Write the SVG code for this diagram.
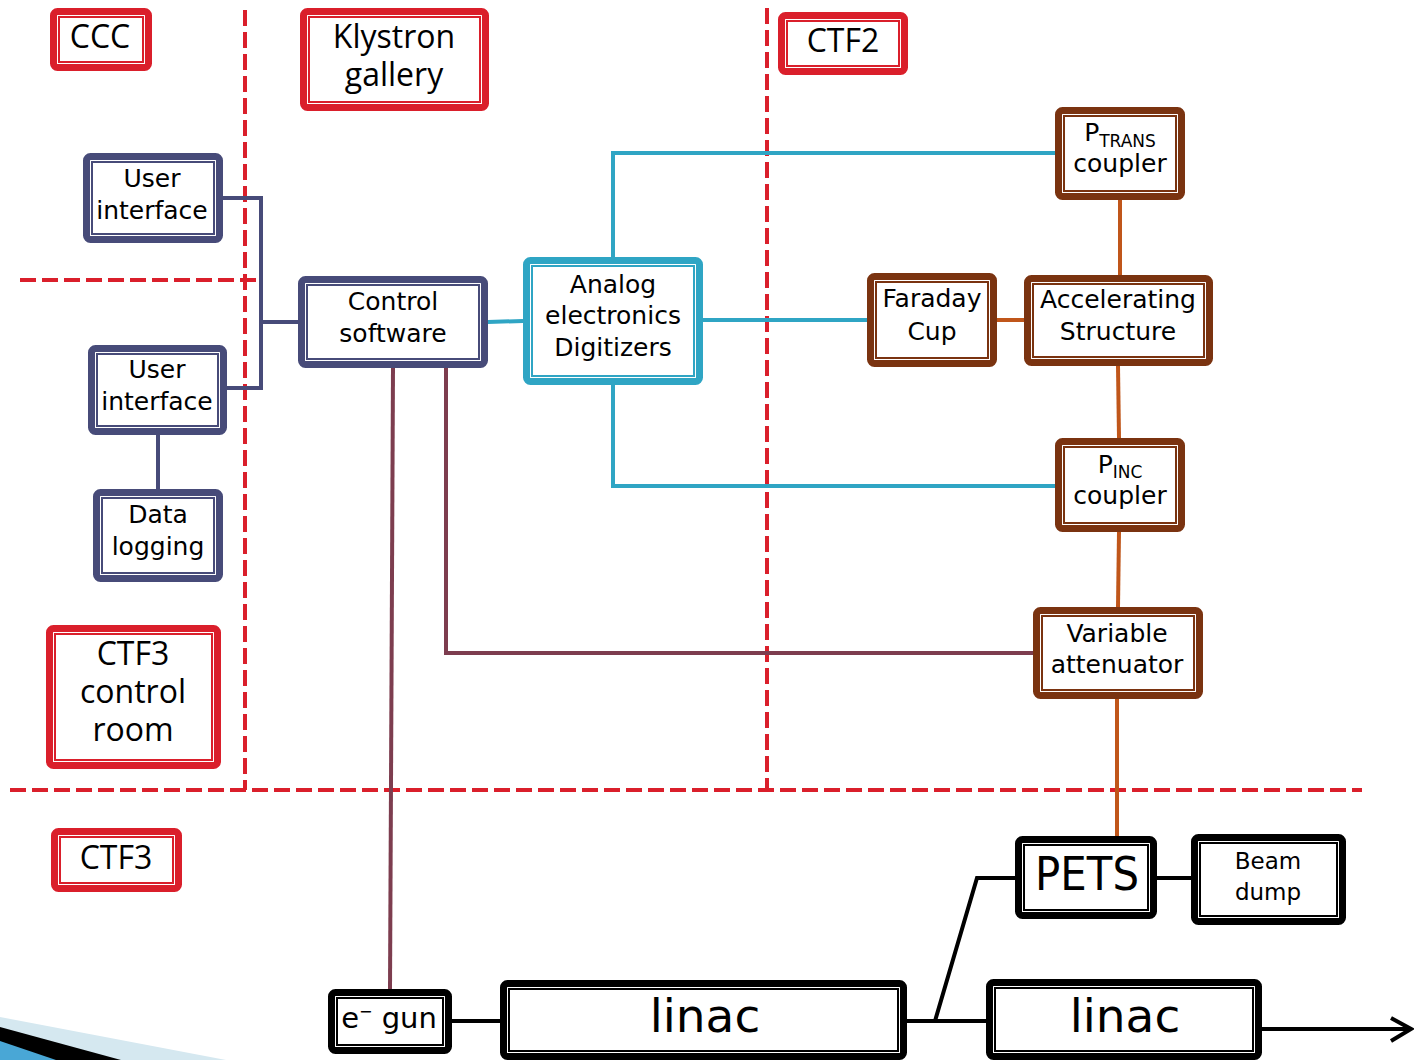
<svg xmlns="http://www.w3.org/2000/svg" width="1414" height="1060" viewBox="0 0 1414 1060">
<style>
text{font-family:"DejaVu Sans","Liberation Sans",sans-serif;font-size:25px;fill:#000;text-anchor:middle}
text.lbl{font-family:"Open Sans","Liberation Sans",sans-serif;font-size:32px}
text.big{font-size:47px}
text.gun{font-size:29px}
text.bd{font-size:23px}
.o{fill:#fff;stroke-width:7}
.i{fill:none;stroke-width:2}
.red{stroke:#DA1F2B}
.navy{stroke:#474B79}
.cyan{stroke:#2FA5C4}
.brown{stroke:#7A3310}
.blk{stroke:#000}
.dash{fill:none;stroke:#DA1F2B;stroke-width:4;stroke-dasharray:16 6}
.c{fill:none;stroke-width:4}
</style>
<rect width="1414" height="1060" fill="#fff"/>
<g id="decoration">
<polygon points="0,1017 226,1060 0,1060" fill="#D5E8F0"/>
<polygon points="0,1027 121,1060 0,1060" fill="#000"/>
<polygon points="0,1041 56,1060 0,1060" fill="#49A7D6"/>
</g>
<g id="zones">
<line class="dash" x1="245" y1="10" x2="245" y2="790"/>
<line class="dash" x1="767" y1="8" x2="767" y2="790"/>
<line class="dash" x1="20" y1="280" x2="256" y2="280"/>
<line class="dash" x1="10" y1="790" x2="1362" y2="790"/>
</g>
<g id="connectors">
<g class="c navy">
<polyline points="223,198 261,198 261,388 227,388"/>
<line x1="261" y1="322" x2="298" y2="322"/>
<line x1="158" y1="435" x2="158" y2="489"/>
</g>
<g class="c cyan">
<line x1="488" y1="322" x2="523" y2="321"/>
<polyline points="613,257 613,153 1058,153"/>
<line x1="703" y1="320" x2="869" y2="320"/>
<polyline points="613,385 613,486 1058,486"/>
</g>
<g class="c" style="stroke:#C0561A">
<line x1="1120" y1="200" x2="1120" y2="275"/>
<line x1="997" y1="320" x2="1024" y2="320"/>
<line x1="1118" y1="366" x2="1119" y2="438"/>
<line x1="1119" y1="532" x2="1118" y2="607"/>
<line x1="1117" y1="699" x2="1117" y2="837"/>
</g>
<g class="c" style="stroke:#7D3D4F">
<line x1="393" y1="368" x2="390" y2="990"/>
<polyline points="446,368 446,653 1033,653"/>
</g>
<g class="c blk">
<line x1="452" y1="1021" x2="500" y2="1021"/>
<line x1="907" y1="1021" x2="986" y2="1021"/>
<polyline points="935,1021 977,878 1015,878"/>
<line x1="1157" y1="878" x2="1191" y2="878"/>
<line x1="1262" y1="1029" x2="1410" y2="1029"/>
<polyline points="1391,1018 1411,1029 1391,1041"/>
</g>
</g>
<g id="ccc">
<rect class="o red" x="53.5" y="11.5" width="95" height="56" rx="4"/>
<rect class="i red" x="59" y="17" width="84" height="45"/>
<text class="lbl" x="100" y="48">CCC</text>
</g>
<g id="klystron">
<rect class="o red" x="303.5" y="11.5" width="182" height="96" rx="4"/>
<rect class="i red" x="309" y="17" width="171" height="85"/>
<text class="lbl" x="394" y="48">Klystron</text>
<text class="lbl" x="394" y="86">gallery</text>
</g>
<g id="ctf2">
<rect class="o red" x="781.5" y="15.5" width="123" height="56" rx="4"/>
<rect class="i red" x="787" y="21" width="112" height="45"/>
<text class="lbl" x="843" y="52">CTF2</text>
</g>
<g id="ctf3cr">
<rect class="o red" x="49.5" y="628.5" width="168" height="137" rx="4"/>
<rect class="i red" x="55" y="634" width="157" height="126"/>
<text class="lbl" x="133" y="665">CTF3</text>
<text class="lbl" x="133" y="703">control</text>
<text class="lbl" x="133" y="741">room</text>
</g>
<g id="ctf3">
<rect class="o red" x="54.5" y="831.5" width="124" height="57" rx="4"/>
<rect class="i red" x="60" y="837" width="113" height="46"/>
<text class="lbl" x="116" y="869">CTF3</text>
</g>
<g id="ui1">
<rect class="o navy" x="86.5" y="156.5" width="133" height="83" rx="4"/>
<rect class="i navy" x="92" y="162" width="122" height="72"/>
<text x="152" y="187">User</text>
<text x="152" y="219">interface</text>
</g>
<g id="ui2">
<rect class="o navy" x="91.5" y="348.5" width="132" height="83" rx="4"/>
<rect class="i navy" x="97" y="354" width="121" height="72"/>
<text x="157" y="378">User</text>
<text x="157" y="410">interface</text>
</g>
<g id="datalog">
<rect class="o navy" x="96.5" y="492.5" width="123" height="86" rx="4"/>
<rect class="i navy" x="102" y="498" width="112" height="75"/>
<text x="158" y="523">Data</text>
<text x="158" y="555">logging</text>
</g>
<g id="control">
<rect class="o navy" x="301.5" y="279.5" width="183" height="85" rx="4"/>
<rect class="i navy" x="307" y="285" width="172" height="74"/>
<text x="393" y="310">Control</text>
<text x="393" y="342">software</text>
</g>
<g id="analog">
<rect class="o cyan" x="526.5" y="260.5" width="173" height="121" rx="4"/>
<rect class="i cyan" x="532" y="266" width="162" height="110"/>
<text x="613" y="293">Analog</text>
<text x="613" y="324">electronics</text>
<text x="613" y="356">Digitizers</text>
</g>
<g id="ptrans">
<rect class="o brown" x="1058.5" y="110.5" width="123" height="86" rx="4"/>
<rect class="i brown" x="1064" y="116" width="112" height="75"/>
<text x="1120" y="141">P<tspan font-size="17" dy="6">TRANS</tspan></text>
<text x="1120" y="172">coupler</text>
</g>
<g id="faraday">
<rect class="o brown" x="870.5" y="276.5" width="123" height="87" rx="4"/>
<rect class="i brown" x="876" y="282" width="112" height="76"/>
<text x="932" y="307">Faraday</text>
<text x="932" y="340">Cup</text>
</g>
<g id="accel">
<rect class="o brown" x="1027.5" y="278.5" width="182" height="84" rx="4"/>
<rect class="i brown" x="1033" y="284" width="171" height="73"/>
<text x="1118" y="308">Accelerating</text>
<text x="1118" y="340">Structure</text>
</g>
<g id="pinc">
<rect class="o brown" x="1058.5" y="441.5" width="123" height="87" rx="4"/>
<rect class="i brown" x="1064" y="447" width="112" height="76"/>
<text x="1120" y="473">P<tspan font-size="17" dy="5">INC</tspan></text>
<text x="1120" y="504">coupler</text>
</g>
<g id="attenuator">
<rect class="o brown" x="1036.5" y="610.5" width="163" height="85" rx="4"/>
<rect class="i brown" x="1042" y="616" width="152" height="74"/>
<text x="1117" y="642">Variable</text>
<text x="1117" y="673">attenuator</text>
</g>
<g id="egun">
<rect class="o blk" x="331.5" y="992.5" width="117" height="58" rx="4"/>
<rect class="i blk" x="337" y="998" width="106" height="47"/>
<text class="gun" x="389" y="1028">e<tspan font-size="16" dy="-11">−</tspan><tspan dy="11"> gun</tspan></text>
</g>
<g id="linac1">
<rect class="o blk" x="503.5" y="983.5" width="400" height="73" rx="4"/>
<rect class="i blk" x="509" y="989" width="389" height="62"/>
<text class="big" x="705" y="1032">linac</text>
</g>
<g id="linac2">
<rect class="o blk" x="989.5" y="982.5" width="269" height="74" rx="4"/>
<rect class="i blk" x="995" y="988" width="258" height="63"/>
<text class="big" x="1125" y="1032">linac</text>
</g>
<g id="pets">
<rect class="o blk" x="1018.5" y="839.5" width="135" height="76" rx="4"/>
<rect class="i blk" x="1024" y="845" width="124" height="65"/>
<text class="big" x="1087" y="890" textLength="104" lengthAdjust="spacingAndGlyphs">PETS</text>
</g>
<g id="beamdump">
<rect class="o blk" x="1194.5" y="837.5" width="148" height="84" rx="4"/>
<rect class="i blk" x="1200" y="843" width="137" height="73"/>
<text class="bd" x="1268" y="869">Beam</text>
<text class="bd" x="1268" y="900">dump</text>
</g>
</svg>
